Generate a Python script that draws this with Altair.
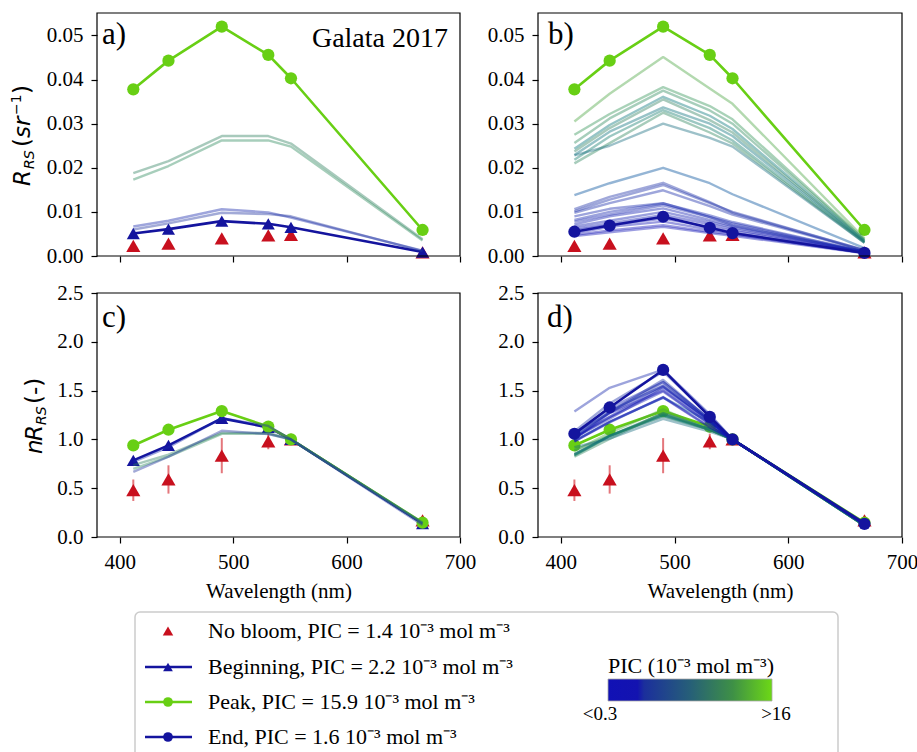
import altair as alt
import pandas as pd

# ---------------------------------------------------------------- data
wavelengths = [412, 443, 490, 531, 551, 667]
ref_band = wavelengths.index(551)  # nRrs is Rrs normalised at 551 nm

# Highlighted stations: remote-sensing reflectance (sr^-1)
no_bloom_rrs = [0.0023, 0.00283, 0.0040, 0.0047, 0.0048, 0.00082]
no_bloom_sd = [0.11, 0.145, 0.18, 0.08, 0.0, 0.04]  # spread on the normalised scale
beginning_rrs = [0.0051, 0.0061, 0.0079, 0.0073, 0.0065, 0.0009]
peak_rrs = [0.0378, 0.0443, 0.0520, 0.0456, 0.0403, 0.0059]
end_rrs = [0.0055, 0.0069, 0.0089, 0.0064, 0.0052, 0.0007]

# Other Galata 2017 spectra and their PIC (10^-3 mol m^-3)
galata_pic = [9.0, 10.0, 1.5, 2.5]
galata_rrs = [
    [0.0188, 0.0215, 0.0272, 0.0272, 0.0255, 0.0038],
    [0.0173, 0.0204, 0.0262, 0.0262, 0.0248, 0.0035],
    [0.0067, 0.0080, 0.0106, 0.0099, 0.0087, 0.0012],
    [0.0060, 0.0074, 0.0098, 0.0095, 0.0090, 0.0011],
]

# All other campaign spectra and their PIC (10^-3 mol m^-3)
campaign_pic = [13.0, 11.0, 10.0, 7.0, 9.0, 6.5, 8.0, 9.5, 6.0,
                3.5, 2.0, 1.8, 1.6, 1.2, 1.0, 0.9, 0.8, 0.6, 0.5, 0.4, 0.3, 0.35, 1.4]
campaign_rrs = [
    [0.0305, 0.0368, 0.0451, 0.0380, 0.0345, 0.0040],
    [0.0275, 0.0322, 0.0383, 0.0340, 0.0310, 0.0037],
    [0.0256, 0.0312, 0.0375, 0.0330, 0.0300, 0.0036],
    [0.0243, 0.0297, 0.0361, 0.0318, 0.0288, 0.0034],
    [0.0237, 0.0290, 0.0355, 0.0308, 0.0280, 0.0033],
    [0.0229, 0.0282, 0.0337, 0.0300, 0.0272, 0.0032],
    [0.0218, 0.0271, 0.0331, 0.0290, 0.0262, 0.0031],
    [0.0210, 0.0256, 0.0325, 0.0280, 0.0255, 0.0030],
    [0.0228, 0.0250, 0.0300, 0.0268, 0.0248, 0.0030],
    [0.0138, 0.0165, 0.0200, 0.0165, 0.0140, 0.0018],
    [0.0106, 0.0134, 0.0166, 0.0122, 0.0098, 0.0013],
    [0.0101, 0.0128, 0.0161, 0.0120, 0.0100, 0.0013],
    [0.0098, 0.0120, 0.0149, 0.0113, 0.0094, 0.0012],
    [0.0082, 0.0100, 0.0119, 0.0092, 0.0077, 0.0010],
    [0.0078, 0.0094, 0.0115, 0.0088, 0.0074, 0.0010],
    [0.0072, 0.0090, 0.0108, 0.0082, 0.0068, 0.0009],
    [0.0067, 0.0080, 0.0100, 0.0077, 0.0065, 0.0009],
    [0.0062, 0.0074, 0.0093, 0.0072, 0.0061, 0.0008],
    [0.0058, 0.0070, 0.0085, 0.0066, 0.0057, 0.0008],
    [0.0052, 0.0066, 0.0078, 0.0060, 0.0052, 0.0007],
    [0.0048, 0.0058, 0.0070, 0.0055, 0.0049, 0.0007],
    [0.0045, 0.0054, 0.0066, 0.0052, 0.0046, 0.0006],
    [0.0090, 0.0107, 0.0120, 0.0088, 0.0070, 0.0009],
]

legend_labels = [
    "No bloom, PIC = 1.4 10⁻³ mol m⁻³",
    "Beginning, PIC = 2.2 10⁻³ mol m⁻³",
    "Peak, PIC = 15.9 10⁻³ mol m⁻³",
    "End, PIC = 1.6 10⁻³ mol m⁻³",
]

# ---------------------------------------------------------------- style
SERIF = "Times New Roman, Liberation Serif, serif"
SANS = "DejaVu Sans"
RED = "#c8101e"
ERR = "#e4777c"
NAVY = "#14149e"
GREEN = "#68cf14"
PIC_STOPS = [0.3, 2.5, 5.0, 9.0, 13.0, 16.0]
PIC_COLORS = ["#1111b5", "#2235a0", "#2c6480", "#2f8060", "#4aa440", "#6dd816"]

W, H = 917, 752
COLS = [(97, 460), (538, 902)]
ROWS = [(13, 256), (293, 537)]

ONE = pd.DataFrame({"k": [0]})


def spectra_frame(spectra, pics, tag):
    rows = []
    for i, (spec, pic) in enumerate(zip(spectra, pics)):
        for wl, v in zip(wavelengths, spec):
            rows.append({"id": f"{tag}{i}", "wl": wl, "rrs": v,
                         "nrrs": v / spec[ref_band], "pic": pic})
    return pd.DataFrame(rows)


def series_frame(values, sd=None):
    df = pd.DataFrame({"wl": wavelengths, "rrs": values})
    df["nrrs"] = df["rrs"] / values[ref_band]
    if sd is not None:
        df["lo"] = df["nrrs"] - pd.Series(sd)
        df["hi"] = df["nrrs"] + pd.Series(sd)
    return df


galata_df = spectra_frame(galata_rrs, galata_pic, "g")
campaign_df = spectra_frame(campaign_rrs, campaign_pic, "c")
no_bloom_df = series_frame(no_bloom_rrs, no_bloom_sd)
beginning_df = series_frame(beginning_rrs)
peak_df = series_frame(peak_rrs)
end_df = series_frame(end_rrs)

pic_scale = alt.Scale(domain=PIC_STOPS, range=PIC_COLORS, clamp=True)


def make_panel(col, row, field, ydomain, yticks, yfmt, thin_df, navy_df, navy_shape,
               galata_order):
    x0, x1 = COLS[col]
    y0, y1 = ROWS[row]
    bottom = row == 1
    xscale = alt.Scale(domain=[380, 700], range=[x0, x1], nice=False, zero=False)
    yscale = alt.Scale(domain=ydomain, range=[y1, y0], nice=False, zero=False)
    xaxis = alt.Axis(orient="bottom", offset=y1 - H, values=[400, 500, 600, 700],
                     format="d", labels=bottom,
                     title="Wavelength (nm)" if bottom else None)
    yaxis = alt.Axis(orient="left", offset=-x0, values=yticks, format=yfmt, title=None)
    X = alt.X("wl:Q", scale=xscale, axis=xaxis)
    Y = alt.Y(f"{field}:Q", scale=yscale, axis=yaxis)

    layers = []
    if field == "nrrs":
        layers.append(alt.Chart(no_bloom_df).mark_rule(color=ERR, strokeWidth=2)
                      .encode(x=X, y=alt.Y("lo:Q", scale=yscale, axis=yaxis), y2="hi:Q"))
    layers.append(alt.Chart(no_bloom_df)
                  .mark_point(shape="triangle-up", filled=True, color=RED, size=200, opacity=1)
                  .encode(x=X, y=Y))

    def line_pts(df, color, shape):
        size = 170 if shape == "triangle-up" else 150
        return [
            alt.Chart(df).mark_line(color=color, strokeWidth=2.6, strokeJoin="round")
            .encode(x=X, y=Y),
            alt.Chart(df).mark_point(shape=shape, filled=True, color=color, size=size, opacity=1)
            .encode(x=X, y=Y),
        ]

    thin = (alt.Chart(thin_df)
            .mark_line(strokeWidth=2.4, opacity=0.42, strokeJoin="round")
            .encode(x=X, y=Y, detail="id:N",
                    color=alt.Color("pic:Q", scale=pic_scale, legend=None)))

    if galata_order:
        # beginning under peak, then the other spectra on top
        layers += line_pts(navy_df, NAVY, navy_shape)
        layers += line_pts(peak_df, GREEN, "circle")
        layers.append(thin)
    else:
        # peak, then the other spectra, then the end of the bloom on top
        layers += line_pts(peak_df, GREEN, "circle")
        layers.append(thin)
        layers += line_pts(navy_df, NAVY, navy_shape)

    frame = (alt.Chart(ONE).mark_rect(fillOpacity=0, stroke="black", strokeWidth=1.2)
             .encode(x=alt.value(x0), x2=alt.value(x1), y=alt.value(y0), y2=alt.value(y1)))
    layers.append(frame)
    return alt.layer(*layers)


rrs_ticks = [0.0, 0.01, 0.02, 0.03, 0.04, 0.05]
n_ticks = [0.0, 0.5, 1.0, 1.5, 2.0, 2.5]

panel_a = make_panel(0, 0, "rrs", [0, 0.0551], rrs_ticks, ".2f", galata_df,
                     beginning_df, "triangle-up", True)
panel_b = make_panel(1, 0, "rrs", [0, 0.0551], rrs_ticks, ".2f", campaign_df,
                     end_df, "circle", False)
panel_c = make_panel(0, 1, "nrrs", [0, 2.5], n_ticks, ".1f", galata_df,
                     beginning_df, "triangle-up", True)
panel_d = make_panel(1, 1, "nrrs", [0, 2.5], n_ticks, ".1f", campaign_df,
                     end_df, "circle", False)


# ---------------------------------------------------------------- annotations
def text(t, x, y, size, font=SERIF, style="normal", align="left", angle=0,
         baseline="alphabetic"):
    return (alt.Chart(ONE)
            .mark_text(text=t, font=font, fontSize=size, fontStyle=style, align=align,
                       baseline=baseline, angle=angle, color="black")
            .encode(x=alt.value(x), y=alt.value(y)))


decor = [
    text("a)", 102, 44, 31), text("b)", 548, 44, 31),
    text("c)", 102, 327, 31), text("d)", 547, 327, 31),
    text("Galata 2017", 448, 47, 28, align="right"),
    # R_RS (sr^-1)
    text("R", 30, 186, 23, SANS, "italic", angle=270),
    text("RS", 34, 169, 14, SANS, "italic", angle=270),
    text("(", 30, 147, 23, SANS, angle=270),
    text("sr", 30, 138, 23, SANS, "italic", angle=270),
    text("−1", 21, 115, 14, SANS, angle=270),
    text(")", 30, 94, 23, SANS, angle=270),
    # nR_RS (-)
    text("n", 42, 454, 23, SANS, "italic", angle=270),
    text("R", 42, 441, 23, SANS, "italic", angle=270),
    text("RS", 46, 425, 14, SANS, "italic", angle=270),
    text("(-)", 42, 404, 23, SANS, angle=270),
]

# legend box with its four entries
legend_rows = [631, 667, 702, 737]
decor.append(alt.Chart(ONE).mark_rect(fill="white", stroke="#cccccc", strokeWidth=1.5,
                                      cornerRadius=5)
             .encode(x=alt.value(135), x2=alt.value(838), y=alt.value(612), y2=alt.value(790)))
decor.append(alt.Chart(ONE).mark_point(shape="triangle-up", filled=True, color=RED, size=110,
                                       opacity=1)
             .encode(x=alt.value(168), y=alt.value(legend_rows[0])))
for yrow, color, shape in [(legend_rows[1], NAVY, "triangle-up"),
                           (legend_rows[2], GREEN, "circle"),
                           (legend_rows[3], NAVY, "circle")]:
    decor.append(alt.Chart(ONE).mark_rule(color=color, strokeWidth=2.6)
                 .encode(x=alt.value(145), x2=alt.value(192), y=alt.value(yrow)))
    decor.append(alt.Chart(ONE).mark_point(shape=shape, filled=True, color=color, size=95,
                                           opacity=1)
                 .encode(x=alt.value(168), y=alt.value(yrow)))
for yrow, lab in zip(legend_rows, legend_labels):
    decor.append(text(lab, 208, yrow + 7, 22))

# PIC colour bar
gradient = alt.LinearGradient(
    gradient="linear", x1=0, x2=1, y1=0, y2=0,
    stops=[alt.GradientStop(color="#1111b5", offset=0),
           alt.GradientStop(color="#1313b0", offset=0.18),
           alt.GradientStop(color="#1b2f9c", offset=0.22),
           alt.GradientStop(color="#265f78", offset=0.5),
           alt.GradientStop(color="#3e9046", offset=0.76),
           alt.GradientStop(color="#6dd816", offset=1)])
decor.append(alt.Chart(ONE).mark_rect(color=gradient, stroke="#aaaaaa", strokeWidth=0.8)
             .encode(x=alt.value(608), x2=alt.value(772), y=alt.value(679), y2=alt.value(701)))
decor.append(text("PIC (10⁻³ mol m⁻³)", 691, 673, 22, align="center"))
decor.append(text("<0.3", 600, 720, 19, align="center"))
decor.append(text(">16", 776, 720, 19, align="center"))

chart = (
    alt.layer(panel_a, panel_b, panel_c, panel_d, *decor)
    .resolve_scale(x="independent", y="independent")
    .properties(width=W, height=H, padding=0, autosize=alt.AutoSizeParams(type="none"))
    .configure_view(strokeWidth=0)
    .configure_axis(
        grid=False, domain=False, ticks=True, tickSize=6, tickWidth=1.2, tickColor="black",
        labelFont=SERIF, labelFontSize=21, labelColor="black", labelPadding=8,
        labelFlush=False, labelOverlap=False,
        titleFont=SERIF, titleFontSize=21, titleFontWeight="normal", titleColor="black",
        titlePadding=8,
    )
)

chart.save("out.html", embed_options={"renderer": "svg", "actions": False})
